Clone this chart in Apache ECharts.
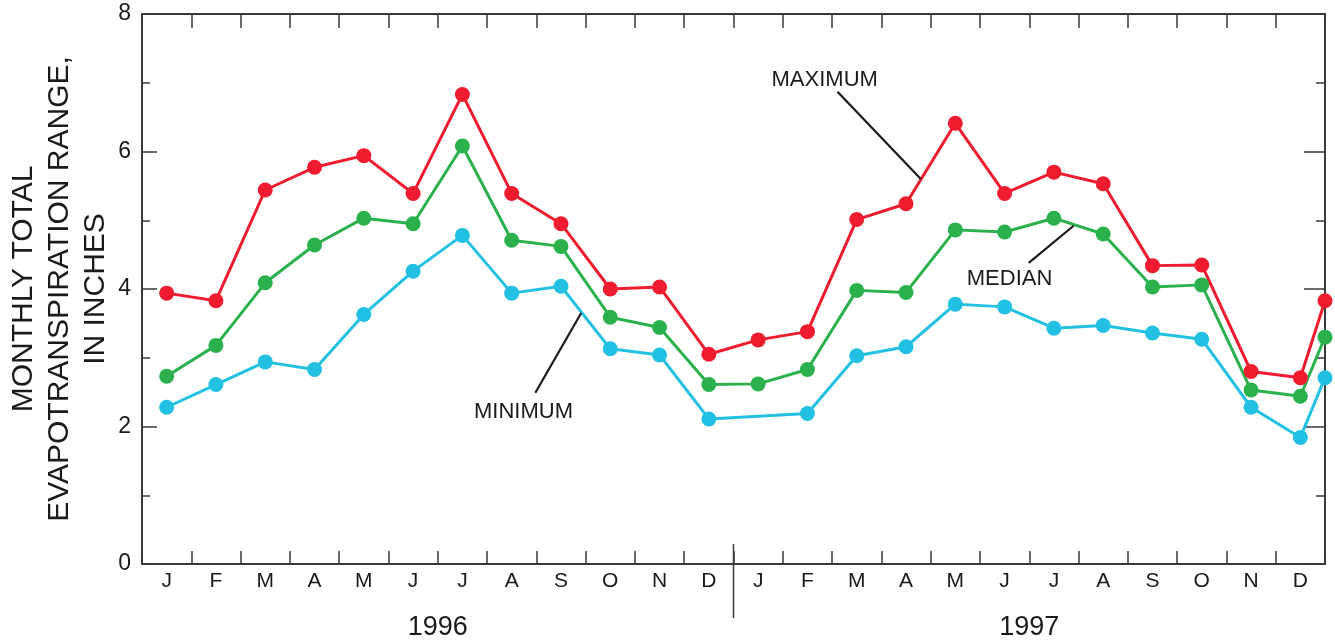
<!DOCTYPE html>
<html>
<head>
<meta charset="utf-8">
<script src="https://cdn.jsdelivr.net/npm/echarts@6/dist/echarts.min.js"></script>
<style>
  html, body { margin: 0; padding: 0; background: #fff; }
  #chart { width: 1335px; height: 643px; }
</style>
</head>
<body>
<div id="chart"></div>
<script>
// Month labels for the two years shown
const months = ['J','F','M','A','M','J','J','A','S','O','N','D',
                'J','F','M','A','M','J','J','A','S','O','N','D'];
const years = ['1996', '1997'];
const yTicks = [0, 2, 4, 6, 8];

// Monthly total evapotranspiration, inches (Jan 1996 .. Dec 1997, plus Jan 1998 at the edge)
const maximum = [3.94, 3.83, 5.44, 5.77, 5.94, 5.39, 6.83, 5.39, 4.95, 4.00, 4.03, 3.05,
                 3.26, 3.38, 5.01, 5.24, 6.41, 5.39, 5.70, 5.53, 4.34, 4.35, 2.80, 2.71, 3.83];
const median  = [2.73, 3.18, 4.09, 4.64, 5.03, 4.95, 6.08, 4.71, 4.62, 3.59, 3.44, 2.61,
                 2.62, 2.83, 3.98, 3.95, 4.86, 4.83, 5.03, 4.80, 4.03, 4.06, 2.53, 2.44, 3.30];
const minimum = [2.28, 2.61, 2.94, 2.83, 3.63, 4.26, 4.78, 3.94, 4.04, 3.13, 3.04, 2.11,
                 null, 2.19, 3.03, 3.16, 3.78, 3.74, 3.43, 3.47, 3.36, 3.27, 2.28, 1.84, 2.71];

const AXIS = '#3a3a3a';
const TEXT = '#1a1a1a';
const FONT = 'Liberation Sans';

// monthly values sit at the middle of each month slot; the 25th value sits on the right edge
function toPoints(vals) {
  const pts = [];
  vals.forEach(function (v, i) {
    if (v === null) return;
    pts.push([i < 24 ? i + 0.5 : 24, v]);
  });
  return pts;
}

function lineSeries(name, vals, color) {
  return {
    name: name,
    type: 'line',
    xAxisIndex: 2,
    yAxisIndex: 0,
    data: toPoints(vals),
    symbol: 'circle',
    symbolSize: 15,
    clip: false,
    lineStyle: { color: color, width: 3 },
    itemStyle: { color: color },
    z: 3
  };
}

const chart = echarts.init(document.getElementById('chart'), null, { renderer: 'canvas' });

const catAxisBase = {
  type: 'category',
  data: months,
  boundaryGap: true,
  axisLine: { show: true, onZero: false, lineStyle: { color: AXIS, width: 2 } },
  splitLine: { show: false }
};

chart.setOption({
  animation: false,
  backgroundColor: '#ffffff',
  grid: { left: 142, right: 10, top: 14, bottom: 79 },
  xAxis: [
    Object.assign({}, catAxisBase, {
      position: 'bottom',
      axisTick: { show: true, inside: true, length: 13, interval: 0,
                  lineStyle: { color: AXIS, width: 1.5 } },
      axisLabel: { show: true, interval: 0, margin: 7, color: TEXT,
                   fontFamily: FONT, fontSize: 21 }
    }),
    Object.assign({}, catAxisBase, {
      position: 'top',
      axisTick: { show: true, inside: true, length: 14, interval: 0,
                  lineStyle: { color: AXIS, width: 1.5 } },
      axisLabel: { show: false }
    }),
    {
      type: 'value', min: 0, max: 24, show: false,
      axisLine: { onZero: false },
      splitLine: { show: false }
    }
  ],
  yAxis: [
    {
      type: 'value', min: 0, max: 8, interval: 2, position: 'left',
      axisLine: { show: true, onZero: false, lineStyle: { color: AXIS, width: 2 } },
      axisTick: { show: true, inside: true, length: 15, lineStyle: { color: AXIS, width: 1.5 } },
      minorTick: { show: true, splitNumber: 2, length: 8, lineStyle: { color: AXIS, width: 1.5 } },
      axisLabel: { margin: 11, color: TEXT, fontFamily: FONT, fontSize: 23,
                   formatter: function (v) { return yTicks.indexOf(v) >= 0 ? String(v) : ''; } },
      splitLine: { show: false }
    },
    {
      type: 'value', min: 0, max: 8, interval: 2, position: 'right',
      axisLine: { show: true, onZero: false, lineStyle: { color: AXIS, width: 2 } },
      axisTick: { show: true, inside: true, length: 21, lineStyle: { color: AXIS, width: 1.5 } },
      minorTick: { show: true, splitNumber: 2, length: 9, lineStyle: { color: AXIS, width: 1.5 } },
      axisLabel: { show: false },
      splitLine: { show: false }
    }
  ],
  series: [
    lineSeries('MINIMUM', minimum, '#22c1e4'),
    lineSeries('MEDIAN', median, '#2bb14b'),
    lineSeries('MAXIMUM', maximum, '#ee1c2e')
  ]
});

// Annotations, placed in data units (month index, inches)
const callouts = [
  { text: 'MAXIMUM', at: [13.85, 7.04], from: [14.11, 6.87], to: [15.80, 5.60] },
  { text: 'MEDIAN',  at: [17.60, 4.15], from: [17.99, 4.38], to: [18.90, 4.92] },
  { text: 'MINIMUM', at: [7.74, 2.21],  from: [7.98, 2.49],  to: [8.91, 3.65] }
];

function px(p) { return chart.convertToPixel({ seriesIndex: 0 }, p); }

const graphics = [];
callouts.forEach(function (c) {
  const t = px(c.at), a = px(c.from), b = px(c.to);
  graphics.push({
    type: 'text', x: t[0], y: t[1], z: 10,
    style: { text: c.text, fill: TEXT, font: '22px ' + FONT,
             textAlign: 'center', textVerticalAlign: 'middle' }
  });
  graphics.push({
    type: 'line', z: 10,
    shape: { x1: a[0], y1: a[1], x2: b[0], y2: b[1] },
    style: { stroke: '#1a1a1a', lineWidth: 2.2 }
  });
});

// Divider between the two years and year captions
const div = px([12, 0]);
graphics.push({
  type: 'line', z: 10,
  shape: { x1: div[0], y1: div[1] - 20, x2: div[0], y2: div[1] + 54 },
  style: { stroke: AXIS, lineWidth: 1.5 }
});
years.forEach(function (y, i) {
  const p = px([6 + 12 * i, 0]);
  graphics.push({
    type: 'text', x: p[0], y: p[1] + 64, z: 10,
    style: { text: y, fill: TEXT, font: '27px ' + FONT,
             textAlign: 'center', textVerticalAlign: 'middle' }
  });
});

// Vertical axis title
graphics.push({
  type: 'text', x: 60, y: 289, rotation: Math.PI / 2, z: 10,
  style: { text: 'MONTHLY TOTAL\nEVAPOTRANSPIRATION RANGE,\nIN INCHES',
           fill: TEXT, font: '30px ' + FONT, lineHeight: 36,
           textAlign: 'center', textVerticalAlign: 'middle' }
});

chart.setOption({ graphic: graphics });
</script>
</body>
</html>
